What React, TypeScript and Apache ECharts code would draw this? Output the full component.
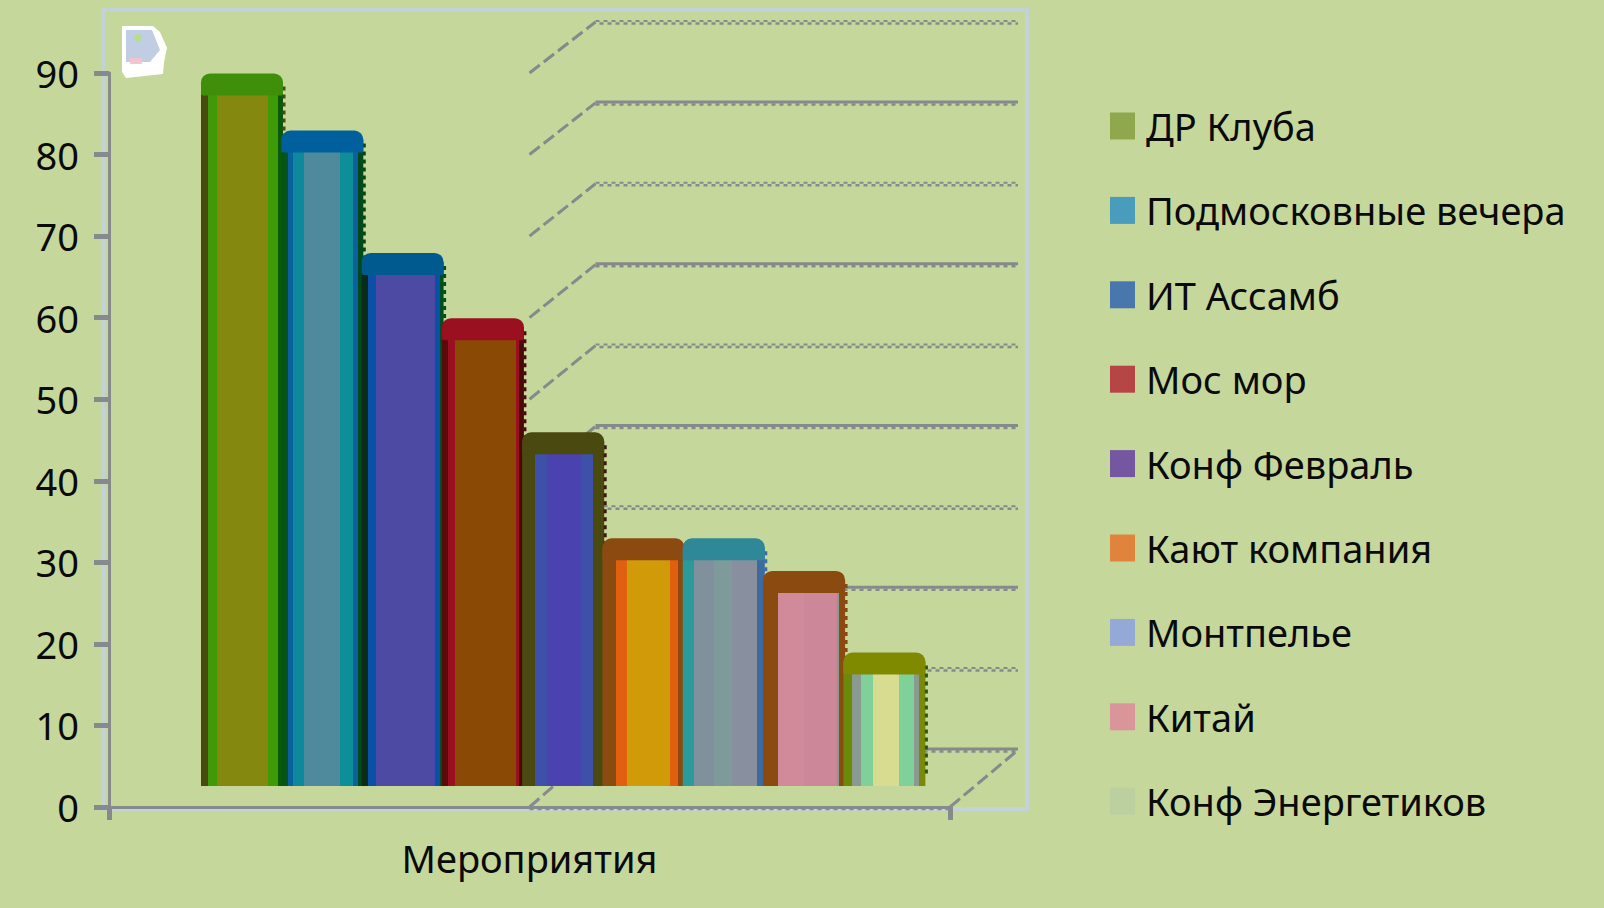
import React, { useEffect, useRef } from "react";
import * as echarts from "echarts";

const categoryLabels = ["Мероприятия"];
const seriesNames = ["ДР Клуба", "Подмосковные вечера", "ИТ Ассамб", "Мос мор", "Конф Февраль", "Кают компания", "Монтпелье", "Китай", "Конф Энергетиков"];
const seriesValues = [87, 80, 65, 57, 43, 30, 30, 26, 16];
const tickValues = [0, 10, 20, 30, 40, 50, 60, 70, 80, 90];
const legendColors = ["#8fa84e", "#4a9cbc", "#4a76ae", "#b54645", "#7556a0", "#e0833c", "#94a9d6", "#d9959a", "#bccf9f"];

// [colour, end fraction] across the cylinder's width
const barBands: [string, number][][] = [
  [["#4a4a10", 0.09], ["#3f9a08", 0.2], ["#85880f", 0.82], ["#3f9a08", 0.94], ["#0b5a0b", 1]],
  [["#07541a", 0.08], ["#0b60a0", 0.14], ["#0c8a9c", 0.28], ["#4f8a9c", 0.72], ["#0c8f98", 0.88], ["#0b60a0", 0.94], ["#004a1a", 1]],
  [["#0a2a1a", 0.08], ["#0a50a8", 0.17], ["#4c4aa2", 0.9], ["#0a50a8", 0.95], ["#00501a", 1]],
  [["#5a0a0a", 0.08], ["#9a1020", 0.16], ["#8a4a05", 0.9], ["#9a1020", 0.94], ["#4a0a0a", 1]],
  [["#4a4a10", 0.15], ["#3f50a8", 0.3], ["#4a42ae", 0.72], ["#3f50a8", 0.86], ["#4a4a10", 1]],
  [["#8a4a10", 0.17], ["#e06010", 0.3], ["#d09a08", 0.82], ["#e06010", 0.92], ["#8a4a10", 1]],
  [["#2a9a9a", 0.14], ["#80909c", 0.38], ["#7f9a9a", 0.6], ["#8890a0", 0.9], ["#3f6aa0", 1]],
  [["#8a4a10", 0.18], ["#d08a9a", 0.5], ["#cc8898", 0.9], ["#8a9a90", 0.93], ["#8a4a10", 1]],
  [["#6a8a08", 0.1], ["#8a9a90", 0.22], ["#80d09a", 0.36], ["#d8dc90", 0.68], ["#80d09a", 0.86], ["#8a9a90", 0.92], ["#7a8a08", 1]],
];
const capColors = ["#3f8f0a", "#00609e", "#005a90", "#9a1020", "#4a4a10", "#8a4a10", "#2f8898", "#8a4a10", "#808a00"];
const fringeColors = ["#4a4a10", "#004a1a", "#00501a", "#4a0a0a", "#3a1a10", "#5a3a10", "#3f6aa0", "#8a4a10", "#2a5a08"];

const GRID = { left: 109, right: 950, top: 73, bottom: 807 };
const GREY = "#868a8c";
const BAR_STEP = 80.3;
const BAR_WIDTH = 82;
const BAR_ORIGIN = 242;
const FLOOR_LIFT = 21;

const bandGradient = (bands: [string, number][]) => {
  const stops: { offset: number; color: string }[] = [];
  let start = 0;
  bands.forEach(([color, end]) => {
    stops.push({ offset: start, color }, { offset: end, color });
    start = end;
  });
  return new echarts.graphic.LinearGradient(0, 0, 1, 0, stops);
};

const renderWall = (_: any, api: any) => {
  const v = api.value(0);
  const [x0, y0] = api.coord([0, v]);
  const dx = 66;
  const dy = 57 - (6 * v) / 90;
  const xB = x0 + dx;
  const yB = y0 - dy;
  const xEnd = 1018;
  const solid = Math.round(v / 10) % 2 === 0;
  const children: any[] = [
    { type: "line", shape: { x1: x0, y1: y0, x2: xB, y2: yB }, style: { stroke: GREY, lineWidth: 3, lineDash: [13, 5] } },
    { type: "line", shape: { x1: xB, y1: yB - 1, x2: xEnd, y2: yB - 1 }, style: solid ? { stroke: GREY, lineWidth: 3 } : { stroke: GREY, lineWidth: 2, lineDash: [4, 4] } },
    { type: "line", shape: { x1: xB + (solid ? 0 : 4), y1: yB + 1.5, x2: xEnd, y2: yB + 1.5 }, style: { stroke: GREY, lineWidth: 2.5, lineDash: [4, 4] } },
  ];
  if (v === 0) {
    const xF = GRID.right;
    children.push(
      { type: "line", shape: { x1: xF, y1: y0, x2: xEnd, y2: yB }, style: { stroke: GREY, lineWidth: 3, lineDash: [13, 5] } },
      { type: "line", shape: { x1: x0, y1: y0 + 2, x2: xF, y2: y0 + 2 }, style: { stroke: GREY, lineWidth: 2.5, lineDash: [4, 4] } }
    );
  }
  return { type: "group", children };
};

const renderBar = (index: number) => (_: any, api: any) => {
  const [cx0, yTop0] = api.coord([api.value(0), api.value(1)]);
  const cx = BAR_ORIGIN + (cx0 - cx0) + index * BAR_STEP;
  const yTop = yTop0 - FLOOR_LIFT;
  const yBottom = api.coord([0, 0])[1] - FLOOR_LIFT;
  const left = cx - BAR_WIDTH / 2;
  const right = cx + BAR_WIDTH / 2;
  return {
    type: "group",
    children: [
      { type: "rect", shape: { x: left, y: yTop + 6, width: BAR_WIDTH, height: yBottom - yTop - 6 }, style: { fill: bandGradient(barBands[index]) } },
      { type: "line", shape: { x1: right + 1, y1: yTop + 10, x2: right + 1, y2: yBottom - 10 }, style: { stroke: fringeColors[index], lineWidth: 3, lineDash: [4, 4] } },
      { type: "rect", shape: { x: left, y: yTop - 3, width: BAR_WIDTH, height: 22, r: [9, 9, 2, 2] }, style: { fill: capColors[index] } },
    ],
  };
};

export default function App() {
  const ref = useRef<HTMLDivElement>(null);
  useEffect(() => {
    document.body.style.margin = "0";
    document.body.style.background = "#c6d79c";
    const chart = echarts.init(ref.current!, null, { renderer: "svg" });
    const font = "'Noto Sans'";
    chart.setOption({
      animation: false,
      backgroundColor: "#c6d79c",
      textStyle: { fontFamily: font },
      grid: { left: GRID.left, top: GRID.top, width: GRID.right - GRID.left, height: GRID.bottom - GRID.top, containLabel: false },
      xAxis: {
        type: "category",
        data: categoryLabels,
        boundaryGap: true,
        axisLine: { lineStyle: { color: GREY, width: 3 } },
        axisTick: { show: true, length: 13, lineStyle: { color: GREY, width: 5 } },
        axisLabel: { fontFamily: font, fontSize: 38, color: "#0a0a0a", margin: 32 },
      },
      yAxis: {
        type: "value",
        min: 0,
        max: 90,
        interval: 10,
        splitLine: { show: false },
        axisLine: { show: true, lineStyle: { color: GREY, width: 3 } },
        axisTick: { show: true, length: 15, lineStyle: { color: GREY, width: 5 } },
        axisLabel: { fontFamily: font, fontSize: 38, color: "#0a0a0a", margin: 30 },
      },
      legend: {
        orient: "vertical",
        left: 1105,
        top: 99,
        icon: "rect",
        itemWidth: 25,
        itemHeight: 27,
        itemGap: 40.4,
        data: seriesNames,
        selectedMode: false,
        textStyle: { fontFamily: font, fontSize: 38, color: "#0a0a0a", lineHeight: 44, padding: [0, 0, 0, 6] },
      },
      graphic: [
        { type: "rect", silent: true, z: -1, shape: { x: 103, y: 10, width: 924, height: 799 }, style: { fill: "none", stroke: "#c2d2d6", lineWidth: 4 } },
        {
          type: "group", silent: true, z: -1,
          children: [
            { type: "polygon", z: -1, shape: { points: [[122, 26], [153, 26], [160, 32], [167, 48], [164, 62], [163, 74], [126, 78], [122, 72]] }, style: { fill: "#ffffff" } },
            { type: "polygon", z: -1, shape: { points: [[126, 30], [152, 30], [160, 50], [150, 62], [126, 62]] }, style: { fill: "#c0cde2" } },
            { type: "circle", z: -1, shape: { cx: 138, cy: 38, r: 4 }, style: { fill: "#b8dc90" } },
            { type: "rect", z: -1, shape: { x: 130, y: 58, width: 12, height: 6 }, style: { fill: "#f4c4cc" } },
          ],
        },
      ],
      series: [
        { type: "custom", name: "__walls", z: 1, silent: true, coordinateSystem: "cartesian2d", renderItem: renderWall, data: tickValues.map((v) => [v]), encode: { y: 0 } },
        ...seriesNames.map((name, i) => ({
          type: "custom",
          name,
          z: 3 + i,
          coordinateSystem: "cartesian2d",
          itemStyle: { color: legendColors[i] },
          renderItem: renderBar(i),
          data: [[categoryLabels[0], seriesValues[i]]],
          encode: { x: 0, y: 1 },
        })),
      ],
    });
    return () => chart.dispose();
  }, []);
  return <div ref={ref} style={{ position: "absolute", left: 0, top: 0, width: 1604, height: 908 }} />;
}
